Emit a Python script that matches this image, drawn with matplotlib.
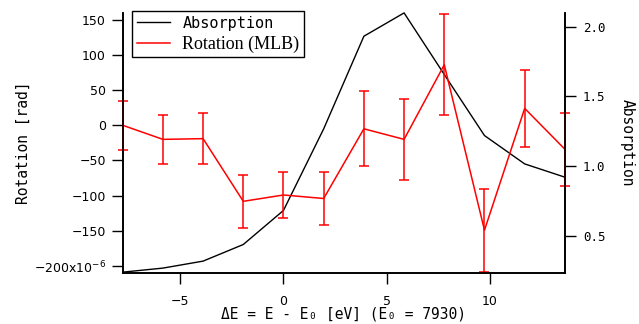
import matplotlib
matplotlib.use("Agg")
import matplotlib.pyplot as plt
from matplotlib.ticker import FuncFormatter

# energy offsets [eV] (step ~1.95 eV)
dE = [-7.8, -5.85, -3.9, -1.95, 0.0, 1.95, 3.9, 5.85, 7.8, 9.75, 11.7, 13.65]
# rotation in units of 1e-6 rad
rotation = [0, -20, -19, -108, -99, -104, -5, -20, 86, -149, 24, -34]
rotation_err = [35, 35, 36, 38, 33, 37, 53, 58, 72, 59, 55, 52]
absorption = [0.242, 0.271, 0.321, 0.440, 0.684, 1.268, 1.931, 2.098,
              1.657, 1.220, 1.017, 0.922]

mono = ["DejaVu Sans Mono"]
plt.rcParams["font.family"] = ["DejaVu Sans"]
plt.rcParams["font.size"] = 9

fig = plt.figure(figsize=(6.39, 3.24), dpi=100)
ax = fig.add_axes([0.192, 0.157, 0.692, 0.804])
ax2 = ax.twinx()
ax.set_zorder(ax2.get_zorder() + 1)
ax.patch.set_visible(False)

line_abs, = ax2.plot(dE, absorption, color="black", lw=1.0, clip_on=False,
                     label="Absorption")
line_rot, = ax.plot(dE, rotation, color="red", lw=1.1, label="Rotation (MLB)")
eb = ax.errorbar(dE, rotation, yerr=rotation_err, fmt="none", ecolor="red",
                 elinewidth=1.1, capsize=3.5, capthick=1.1)
for art in eb.get_children():
    art.set_clip_on(False)

ax.set_xlim(dE[0], dE[-1])
ax.set_ylim(-210, 160)
ax2.set_ylim(0.235, 2.1)

ax.set_xticks([-5, 0, 5, 10])
ax.set_yticks(range(-200, 151, 50))
ax2.set_yticks([0.5, 1.0, 1.5, 2.0])


def rot_fmt(v, pos):
    if v == -200:
        return "\u2212200x10$^{-6}$"
    return f"{v:g}".replace("-", "\u2212")


ax.yaxis.set_major_formatter(FuncFormatter(rot_fmt))
ax2.yaxis.set_major_formatter(FuncFormatter(lambda v, p: f"{v:.1f}"))
for lab in ax2.get_yticklabels():
    lab.set_family(mono)

for a in (ax, ax2):
    a.spines["top"].set_visible(False)
    for s in a.spines.values():
        s.set_linewidth(1.2)
    a.tick_params(direction="out", length=8, width=1.0)
ax.tick_params(axis="y", pad=4)
ax.tick_params(axis="x", pad=8)
ax2.tick_params(axis="y", pad=5)

ax.set_ylabel("Rotation [rad]", family=mono, fontsize=10.5, labelpad=2)
ax2.set_ylabel("Absorption", family=mono, fontsize=10.5, rotation=270,
               labelpad=21)
ax.set_xlabel("\u0394E = E - E\u2080 [eV] (E\u2080 = 7930)", family=mono,
              fontsize=10.5, labelpad=-1)

leg = ax.legend([line_abs, line_rot], ["Absorption", "Rotation (MLB)"],
                loc="upper left", bbox_to_anchor=(0.021, 1.006),
                borderaxespad=0, fancybox=False,
                framealpha=1, edgecolor="black", handlelength=2.2,
                borderpad=0.3, labelspacing=0.3, fontsize=11)
leg.get_frame().set_linewidth(1.0)
leg.get_texts()[0].set_family(mono)
leg.get_texts()[1].set_family(["Liberation Serif"])
leg.get_texts()[1].set_fontsize(13)

fig.savefig("out.png", dpi=100)
